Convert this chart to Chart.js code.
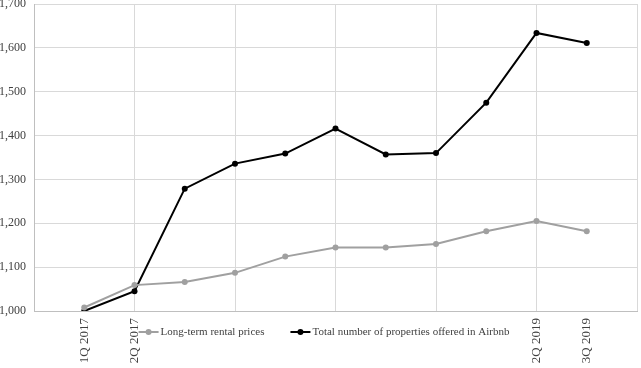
<!DOCTYPE html>
<html><head><meta charset="utf-8">
<script src="https://cdn.jsdelivr.net/npm/chart.js@4/dist/chart.umd.min.js"></script>
<style>html,body{margin:0;padding:0;background:#fff}#wrap{width:641px;height:368px;position:relative}</style>
</head><body><div id="wrap"><canvas id="c"></canvas></div>
<script>
const categories = ['1Q 2017','2Q 2017','3Q 2017','4Q 2017','1Q 2018','2Q 2018','3Q 2018','4Q 2018','1Q 2019','2Q 2019','3Q 2019'];
const shownLabels = ['1Q 2017','2Q 2017','2Q 2019','3Q 2019'];
const rentalPrices = [1008,1059,1066,1087,1124,1145,1145,1153,1182,1205,1182];
const airbnbProperties = [1000,1045,1279,1336,1359,1416,1357,1360,1475,1634,1611];
const seriesNames = ['Long-term rental prices','Total number of properties offered in Airbnb'];
const yMin = 1000, yMax = 1700, yStep = 100;

const FONT = 'Liberation Serif, "Times New Roman", serif';
const TXT = '#404040';
const labels = ['', ...categories, ''];
const pad = a => [null, ...a, null];

const legendPlugin = {
  id: 'customLegend',
  afterDraw(chart) {
    const ctx = chart.ctx;
    ctx.save();
    ctx.font = '11px ' + FONT;
    ctx.textBaseline = 'middle';
    const y = 332;
    const lineLen = 20, gap = 2, itemGap = 26;
    const ds = chart.data.datasets;
    const widths = ds.map(d => ctx.measureText(d.label).width);
    let total = 0;
    widths.forEach((w, i) => { total += lineLen + gap + w + (i < widths.length - 1 ? itemGap : 0); });
    let x = 324 - total / 2;
    ds.forEach((d, i) => {
      ctx.strokeStyle = d.borderColor;
      ctx.lineWidth = 2;
      ctx.beginPath(); ctx.moveTo(x, y); ctx.lineTo(x + lineLen, y); ctx.stroke();
      ctx.fillStyle = d.borderColor;
      ctx.beginPath(); ctx.arc(x + lineLen / 2, y, 3, 0, Math.PI * 2); ctx.fill();
      ctx.fillStyle = TXT;
      ctx.textAlign = 'left';
      ctx.fillText(d.label, x + lineLen + gap, y);
      x += lineLen + gap + widths[i] + itemGap;
    });
    ctx.restore();
  }
};

new Chart(document.getElementById('c'), {
  type: 'line',
  data: {
    labels: labels,
    datasets: [
      { label: seriesNames[0], data: pad(rentalPrices), borderColor: '#a0a0a0', backgroundColor: '#a0a0a0',
        borderWidth: 2, pointRadius: 3, pointBackgroundColor: '#a0a0a0', pointBorderWidth: 0, tension: 0 },
      { label: seriesNames[1], data: pad(airbnbProperties), borderColor: '#000000', backgroundColor: '#000000',
        borderWidth: 2, pointRadius: 3, pointBackgroundColor: '#000000', pointBorderWidth: 0, tension: 0 }
    ]
  },
  options: {
    responsive: true, maintainAspectRatio: false, animation: false, devicePixelRatio: 1,
    layout: { padding: { top: 4, right: 3, left: 0, bottom: 0 } },
    plugins: { legend: { display: false }, tooltip: { enabled: false } },
    scales: {
      y: {
        min: yMin, max: yMax,
        ticks: { stepSize: yStep, color: TXT, font: { family: FONT, size: 12 }, padding: 8,
          callback: v => v.toLocaleString('en-US') },
        grid: { color: '#d9d9d9', lineWidth: 1, drawTicks: false },
        border: { display: true, color: '#bfbfbf', width: 1 },
        afterFit: s => { s.width = 34; s.paddingTop = 0; s.paddingBottom = 0; }
      },
      x: {
        offset: false,
        ticks: { autoSkip: false, maxRotation: 90, minRotation: 90, color: TXT, padding: 7,
          font: { family: FONT, size: 13 },
          callback: (v, i) => shownLabels.includes(labels[i]) ? labels[i] : '' },
        grid: { color: c => (c.index % 2 === 0 ? '#d9d9d9' : 'rgba(0,0,0,0)'), lineWidth: 1, drawTicks: false },
        border: { display: true, color: '#bfbfbf', width: 1 },
        afterFit: s => { s.height = 57; s.paddingLeft = 0; s.paddingRight = 0; }
      }
    }
  },
  plugins: [legendPlugin]
});
</script>
</body></html>
